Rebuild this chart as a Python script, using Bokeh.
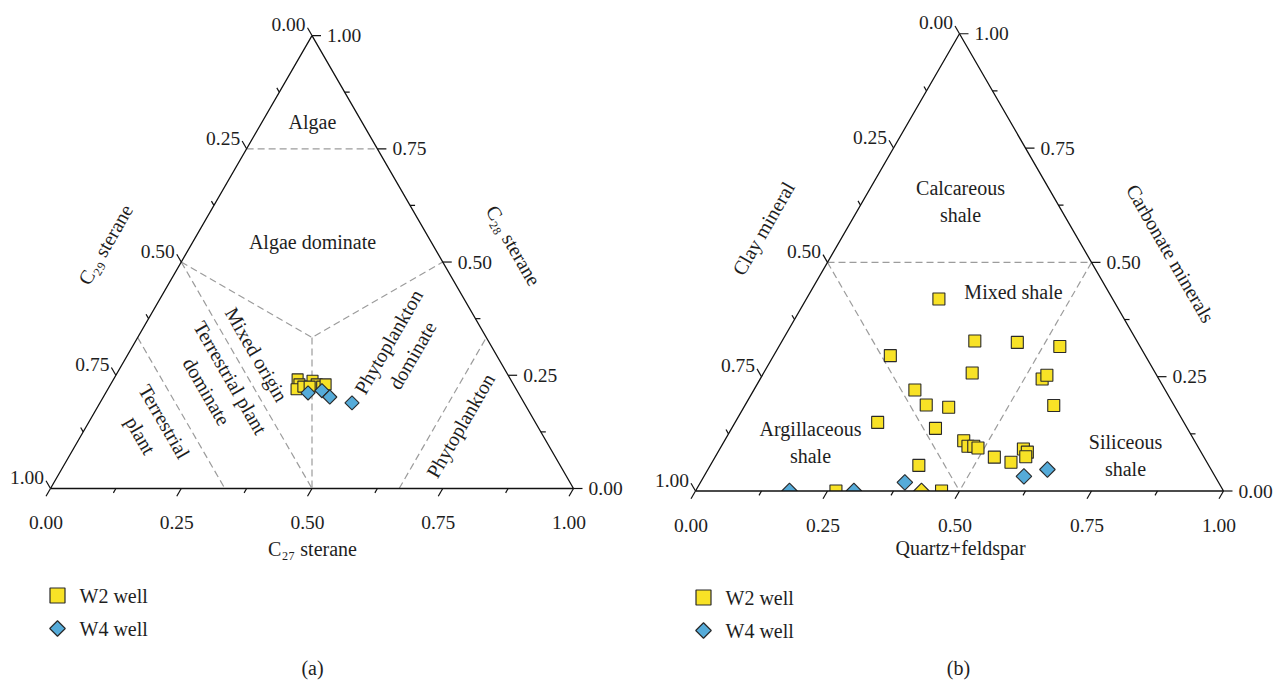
import numpy as np
from bokeh.plotting import figure
from bokeh.layouts import row
from bokeh.models import Range1d
from bokeh.embed import file_html
from bokeh.resources import INLINE
from bokeh.core.properties import value

# ---------------- (a) sterane distribution (fractions) ----------------
a_w2_c27 = [0.352, 0.361, 0.361, 0.371, 0.382, 0.394, 0.407, 0.411, 0.383]
a_w2_c28 = [0.241, 0.230, 0.219, 0.225, 0.238, 0.230, 0.225, 0.230, 0.225]
a_w2_c29 = [0.407, 0.409, 0.420, 0.404, 0.380, 0.376, 0.368, 0.359, 0.392]

a_w4_c27 = [0.387, 0.411, 0.433, 0.482]
a_w4_c28 = [0.211, 0.216, 0.202, 0.189]
a_w4_c29 = [0.402, 0.373, 0.365, 0.329]

# ---------------- (b) mineral composition (fractions) ----------------
b_w2_qf = [0.251, 0.365, 0.447, 0.532, 0.221, 0.395, 0.534, 0.539, 0.305,
           0.585, 0.343, 0.388, 0.270, 0.386, 0.453, 0.467, 0.478, 0.488,
           0.529, 0.566, 0.575, 0.586, 0.588, 0.395, 0.466, 0.266]
b_w2_carb = [0.420, 0.328, 0.325, 0.316, 0.296, 0.258, 0.245, 0.253, 0.221,
             0.187, 0.188, 0.183, 0.150, 0.137, 0.110, 0.098, 0.098, 0.094,
             0.074, 0.063, 0.092, 0.085, 0.075, 0.056, 0.000, 0.000]
b_w2_clay = [0.329, 0.307, 0.228, 0.152, 0.483, 0.347, 0.221, 0.208, 0.474,
             0.228, 0.469, 0.429, 0.580, 0.477, 0.437, 0.435, 0.424, 0.418,
             0.397, 0.371, 0.333, 0.329, 0.337, 0.549, 0.534, 0.734]
# one W2 sample plotted with a diamond symbol
b_w2d_qf = [0.428]
b_w2d_carb = [0.000]
b_w2d_clay = [0.572]

b_w4_qf = [0.178, 0.300, 0.387, 0.606, 0.643]
b_w4_carb = [0.000, 0.000, 0.019, 0.032, 0.047]
b_w4_clay = [0.822, 0.700, 0.594, 0.362, 0.310]

tick_values = [0.0, 0.25, 0.5, 0.75, 1.0]
tick_labels = ["0.00", "0.25", "0.50", "0.75", "1.00"]
minor_values = [0.125, 0.375, 0.625, 0.875]

YELLOW = "#F8E226"
BLUE = "#55ABD9"
EDGE = "#2a2a2a"
DASH = "#9c9c9c"
FONT = value("Liberation Serif")
FS = value("20px")
FS_TICK = value("19.5px")
SQ3 = np.sqrt(3) / 2

W, H = 643, 682


def tern_xy(bottom, apex, left):
    b = np.asarray(bottom, float)
    a = np.asarray(apex, float)
    l = np.asarray(left, float)
    tot = b + a + l
    return (b + a / 2) / tot, a * SQ3 / tot


def tern_pt(bottom, apex):
    # single composition point (third component implied)
    return bottom + apex / 2, apex * SQ3


class Panel:
    """A ternary panel; ox/oy locate the bottom-left vertex in the panel (pixels),
    s is the side length of the triangle in pixels."""

    def __init__(self, ox, oy, s, gx):
        self.ox, self.oy, self.s, self.gx = ox, oy, s, gx
        p = figure(width=W, height=H,
                   x_range=Range1d(-ox / s, (W - ox) / s),
                   y_range=Range1d(-(H - oy) / s, oy / s),
                   output_backend="svg", toolbar_location=None,
                   x_axis_location=None, y_axis_location=None,
                   min_border=0)
        p.grid.grid_line_color = None
        p.outline_line_color = None
        p.background_fill_color = "white"
        p.border_fill_color = "white"
        self.p = p

    def px(self, gx, gy):
        # page pixel position -> data coordinates
        return (gx - self.gx - self.ox) / self.s, (self.oy - gy) / self.s

    def text(self, gx, gy, txt, angle=0.0, align="center", baseline="middle", size=FS):
        x, y = self.px(gx, gy)
        self.p.text(x=[x], y=[y], text=[txt], angle=angle, text_font=FONT,
                    text_font_size=size, text_align=align, text_baseline=baseline,
                    text_color="#1e1e1e", text_line_height=1.25)

    def dashed(self, pts):
        xs = [q[0] for q in pts]
        ys = [q[1] for q in pts]
        self.p.line(xs, ys, line_color=DASH, line_width=1.2, line_dash="7 4")

    def frame(self):
        p, s = self.p, self.s
        p.line([0, 1, 0.5, 0], [0, 0, SQ3, 0], line_color="#111111", line_width=1.3)
        major, minor = 9 / s, 5 / s
        dirs = {"bottom": (-0.5, -SQ3), "left": (-0.5, SQ3), "right": (1.0, 0.0)}

        def edge(axis, t):
            if axis == "bottom":
                return t, 0.0
            if axis == "left":
                return (1 - t) / 2, (1 - t) * SQ3
            return 1 - t / 2, t * SQ3

        x0, y0, x1, y1 = [], [], [], []
        for axis, (dx, dy) in dirs.items():
            for vals, ln in ((tick_values, major), (minor_values, minor)):
                for t in vals:
                    ex, ey = edge(axis, t)
                    x0.append(ex); y0.append(ey)
                    x1.append(ex + dx * ln); y1.append(ey + dy * ln)
        p.segment(x0, y0, x1, y1, line_color="#111111", line_width=1.2)

        # tick labels
        bx = [t - 0.5 * major for t in tick_values]
        by = [-34 / s] * len(tick_values)
        p.text(x=bx, y=by, text=tick_labels, text_font=FONT, text_font_size=FS_TICK,
               text_align="center", text_baseline="alphabetic", text_color="#1e1e1e")
        lx, ly = [], []
        for t in tick_values:
            ex, ey = edge("left", t)
            lx.append(ex - 0.5 * major - 2 / s)
            ly.append(ey + SQ3 * major + 3 / s)
        p.text(x=lx, y=ly, text=tick_labels, text_font=FONT, text_font_size=FS_TICK,
               text_align="right", text_baseline="alphabetic", text_color="#1e1e1e")
        rx, ry = [], []
        for t in tick_values:
            ex, ey = edge("right", t)
            rx.append(ex + major + 6 / s)
            ry.append(ey)
        p.text(x=rx, y=ry, text=tick_labels, text_font=FONT, text_font_size=FS_TICK,
               text_align="left", text_baseline="middle", text_color="#1e1e1e")

    def legend(self, gx, gy_sq, gy_di):
        x, y = self.px(gx, gy_sq)
        self.p.scatter([x], [y], marker="square", size=15, fill_color=YELLOW,
                       line_color=EDGE, line_width=1.2)
        x, y = self.px(gx, gy_di)
        self.p.scatter([x], [y], marker="square", size=11, angle=np.pi / 4,
                       fill_color=BLUE, line_color=EDGE, line_width=1.2)
        self.text(gx + 22, gy_sq, "W2 well", align="left")
        self.text(gx + 22, gy_di, "W4 well", align="left")


# ======================= (a) =======================
A = Panel(ox=50, oy=488, s=523, gx=0)
pa = A.p
centroid = tern_pt(1 / 3, 1 / 3)
A.dashed([tern_pt(0.0, 0.75), tern_pt(0.25, 0.75)])                 # C28 = 0.75
A.dashed([tern_pt(0.0, 0.5), centroid, tern_pt(0.5, 0.5)])          # to the centroid
A.dashed([centroid, tern_pt(0.5, 0.0)])
A.dashed([tern_pt(0.0, 0.5), tern_pt(0.5, 0.0)])                    # C29 = 0.5
A.dashed([tern_pt(0.0, 1 / 3), tern_pt(1 / 3, 0.0)])                # C29 = 2/3
A.dashed([tern_pt(2 / 3, 0.0), tern_pt(2 / 3, 1 / 3)])              # C27 = 2/3

x, y = tern_xy(a_w2_c27, a_w2_c28, a_w2_c29)
pa.scatter(x, y, marker="square", size=11, fill_color=YELLOW, line_color=EDGE, line_width=1.1)
x, y = tern_xy(a_w4_c27, a_w4_c28, a_w4_c29)
pa.scatter(x, y, marker="square", size=10, angle=np.pi / 4, fill_color=BLUE,
           line_color=EDGE, line_width=1.1)

A.frame()
A.text(312, 121, "Algae")
A.text(312, 241, "Algae dominate")
A.text(256, 354, "Mixed origin", angle=-np.pi / 3)
A.text(218, 384, "Terrestrial plant\ndominate", angle=-np.pi / 3)
A.text(152, 428, "Terrestrial\nplant", angle=-np.pi / 3)
A.text(400, 348, "Phytoplankton\ndominate", angle=np.pi / 3)
A.text(460, 425, "Phytoplankton", angle=np.pi / 3)
A.text(105, 244, "C\u2082\u2089 sterane", angle=np.pi / 3)
A.text(513, 245, "C\u2082\u2088 sterane", angle=-np.pi / 3)
A.text(312, 548, "C\u2082\u2087 sterane")
A.legend(57, 595, 628)
A.text(312, 667, "(a)")

# ======================= (b) =======================
B = Panel(ox=52, oy=490.5, s=528, gx=643)
pb = B.p
B.dashed([tern_pt(0.0, 0.5), tern_pt(0.5, 0.5)])   # carbonate = 0.5
B.dashed([tern_pt(0.0, 0.5), tern_pt(0.5, 0.0)])   # clay = 0.5
B.dashed([tern_pt(0.5, 0.5), tern_pt(0.5, 0.0)])   # quartz+feldspar = 0.5

x, y = tern_xy(b_w2_qf, b_w2_carb, b_w2_clay)
pb.scatter(x, y, marker="square", size=12, fill_color=YELLOW, line_color=EDGE, line_width=1.1)
x, y = tern_xy(b_w2d_qf, b_w2d_carb, b_w2d_clay)
pb.scatter(x, y, marker="square", size=11, angle=np.pi / 4, fill_color=YELLOW,
           line_color=EDGE, line_width=1.1)
x, y = tern_xy(b_w4_qf, b_w4_carb, b_w4_clay)
pb.scatter(x, y, marker="square", size=11, angle=np.pi / 4, fill_color=BLUE,
           line_color=EDGE, line_width=1.1)
# the plot area ends at the base line: hide what falls below it
pb.quad(left=-0.05, right=1.05, bottom=-0.03, top=0.0, fill_color="white", line_color=None)

B.frame()
B.text(960, 201, "Calcareous\nshale")
B.text(1013, 291, "Mixed shale")
B.text(810, 442, "Argillaceous\nshale")
B.text(1125, 455, "Siliceous\nshale")
B.text(763, 228, "Clay mineral", angle=np.pi / 3)
B.text(1170, 253, "Carbonate minerals", angle=-np.pi / 3)
B.text(960, 547, "Quartz+feldspar")
B.legend(703, 597, 630)
B.text(958, 667, "(b)")

layout = row(pa, pb)
open("out.html", "w").write(file_html(layout, INLINE))
